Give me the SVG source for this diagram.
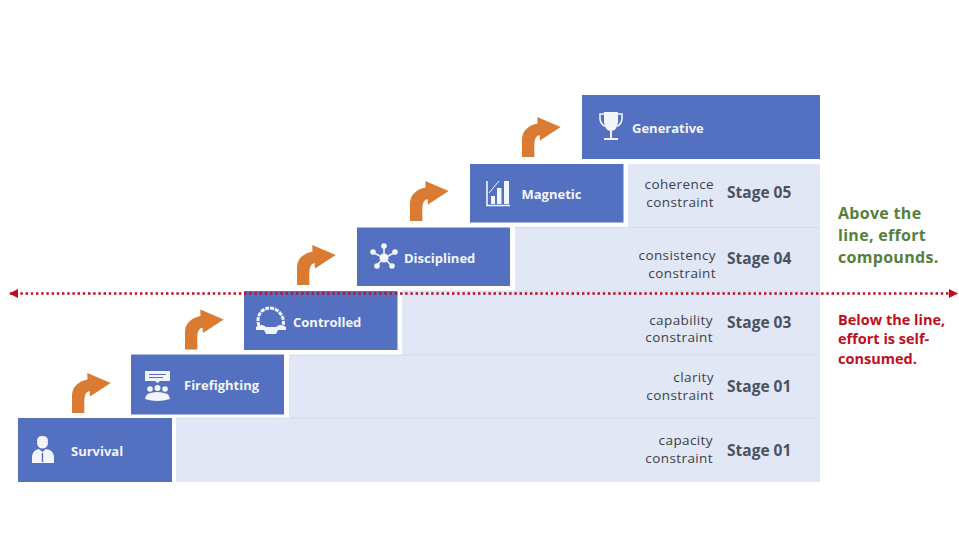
<svg xmlns="http://www.w3.org/2000/svg" width="959" height="540" viewBox="0 0 959 540">
<style>
.step{fill:#5470c0}
.band{fill:#e1e7f4}
.sep{stroke:#d6dcea;stroke-width:1;fill:none}
.arrow{fill:#d97b33}
.lbl{font:700 13px "Open Sans","Liberation Sans",sans-serif;fill:#f2f5fb}
.con{font:400 13.500px "Open Sans","Liberation Sans",sans-serif;letter-spacing:.4px;fill:#3a3f4a;text-anchor:end}
.stage{font:700 15.500px "Open Sans","Liberation Sans",sans-serif;fill:#4a5160}
.green{font:700 16px "Open Sans","Liberation Sans",sans-serif;letter-spacing:.3px;fill:#55803c}
.red{font:700 14.500px "Open Sans","Liberation Sans",sans-serif;fill:#c00d20}
.ico{fill:#f2f5fb}
.icl{fill:none;stroke:#f2f5fb;stroke-width:1.6}
</style>
<defs>
<path id="up" class="arrow" d="M0,0V-17Q0,-30 15.5,-33.5L15.3,-40L38.7,-30L18,-16.5L17.5,-22Q12.3,-21 12.3,-12V0Z"/>
<marker id="hd" viewBox="0 0 10 10" refX="9" refY="5" markerWidth="9" markerHeight="9" markerUnits="userSpaceOnUse" orient="auto-start-reverse"><path d="M0,0L10,5L0,10Z" fill="#c00d20"/></marker>
</defs>
<rect width="959" height="540" fill="#fff"/>
<g id="bands">
<rect class="band" x="176" y="418" width="644" height="64"/>
<rect class="band" x="289" y="355" width="531" height="63"/>
<rect class="band" x="402" y="291" width="418" height="64"/>
<rect class="band" x="515" y="227.500" width="305" height="63.500"/>
<rect class="band" x="628" y="164" width="192" height="63.500"/>
<path class="sep" d="M176,418H820M289,355H820M402,291H820M515,227.500H820"/>
</g>
<g id="survival">
<rect class="step" x="18" y="418" width="154" height="64"/>
<circle class="ico" cx="42.500" cy="443" r="5.500"/>
<path class="ico" d="M37,441Q37,436 42.500,436Q48,436 48,441Z"/>
<path class="ico" d="M32,463V456Q33,450 39,449L42.500,452L46,449Q53,450 54,456V463Z"/>
<path d="M42.500,453V462" stroke="#5470c0" stroke-width="1.500"/>
<text class="lbl" x="71" y="455.500">Survival</text>
</g>
<g id="firefighting">
<rect class="step" x="131" y="354.500" width="153" height="60"/>
<path class="ico" d="M145,371H170V381H160L157.500,383L155,381H145Z"/>
<path d="M149,374.500H166M149,377.500H163" stroke="#5470c0" stroke-width="1"/>
<circle class="ico" cx="150" cy="389" r="2.800"/><circle class="ico" cx="157.500" cy="388" r="3"/><circle class="ico" cx="165" cy="389" r="2.800"/>
<path class="ico" d="M145,399Q146,393 151,393Q157,391 164,393Q169,393 170,399Q157.500,403 145,399Z"/>
<text class="lbl" x="184" y="389.500">Firefighting</text>
</g>
<g id="controlled">
<rect class="step" x="244" y="291" width="153.500" height="59"/>
<path class="icl" style="stroke-width:3;stroke-dasharray:4 1" d="M259,326Q256,317 262,311Q270,305 278,311Q285,317 283,326"/>
<path class="ico" d="M256,327Q262,323 266,327H276Q280,323 286,327V330H278L276,334H266L264,330H256Z"/>
<text class="lbl" x="293" y="326.500">Controlled</text>
</g>
<g id="disciplined">
<rect class="step" x="357" y="227.500" width="153" height="58.500"/>
<path class="icl" d="M384,245V258M372,252L384,258L396,252M376,266L384,258L392,266"/>
<circle class="ico" cx="384" cy="258" r="4.500"/><circle class="ico" cx="384" cy="246" r="2.800"/><circle class="ico" cx="373" cy="252" r="2.800"/><circle class="ico" cx="395" cy="252" r="2.800"/><circle class="ico" cx="377" cy="266" r="2.800"/><circle class="ico" cx="392" cy="266" r="2.800"/>
<text class="lbl" x="404" y="262.500">Disciplined</text>
</g>
<g id="magnetic">
<rect class="step" x="470" y="164" width="153.500" height="58.500"/>
<path class="icl" d="M487,181V205.500H510"/>
<rect class="ico" x="491" y="196" width="4" height="8"/><rect class="ico" x="497" y="188" width="4.500" height="16"/><rect class="ico" x="504" y="181" width="5" height="23"/>
<path class="icl" style="stroke-width:1" d="M489,193L499,181"/>
<text class="lbl" x="521.500" y="199">Magnetic</text>
</g>
<g id="generative">
<rect class="step" x="582" y="95" width="238" height="64"/>
<path class="icl" d="M604,114H600V119Q601,125 605,126M618,114H622V119Q621,125 617,126"/>
<path class="ico" d="M604,112H618V122Q617,131 611,131Q605,131 604,122Z"/>
<rect class="ico" x="610" y="131" width="2" height="7"/><rect class="ico" x="604" y="138" width="14" height="2"/>
<text class="lbl" x="632" y="132.500">Generative</text>
</g>
<g id="connectors">
<use href="#up" x="72" y="413"/>
<use href="#up" x="185" y="349.500"/>
<use href="#up" x="297" y="285"/>
<use href="#up" x="410" y="221"/>
<use href="#up" x="522" y="157"/>
<path d="M10,293.500H957" fill="none" stroke="#c00d20" stroke-width="2.400" stroke-dasharray="2.400 2.800" marker-start="url(#hd)" marker-end="url(#hd)"/>
</g>
<g id="labels">
<text class="con" x="714" y="188.500">coherence</text><text class="con" x="714" y="206.500">constraint</text>
<text class="stage" x="727" y="198">Stage 05</text>
<text class="con" x="716" y="260">consistency</text><text class="con" x="716" y="278">constraint</text>
<text class="stage" x="727" y="264">Stage 04</text>
<text class="con" x="713" y="324.500">capability</text><text class="con" x="713" y="342">constraint</text>
<text class="stage" x="727" y="328">Stage 03</text>
<text class="con" x="714" y="382">clarity</text><text class="con" x="714" y="400">constraint</text>
<text class="stage" x="727" y="392">Stage 01</text>
<text class="con" x="713" y="445">capacity</text><text class="con" x="713" y="463">constraint</text>
<text class="stage" x="727" y="455.500">Stage 01</text>
</g>
<g id="notes">
<text class="green" x="838" y="218.500">Above the</text><text class="green" x="838" y="240.500">line, effort</text><text class="green" x="838" y="262.500">compounds.</text>
<text class="red" x="838" y="325">Below the line,</text><text class="red" x="838" y="344">effort is self-</text><text class="red" x="838" y="363.500">consumed.</text>
</g>
</svg>
